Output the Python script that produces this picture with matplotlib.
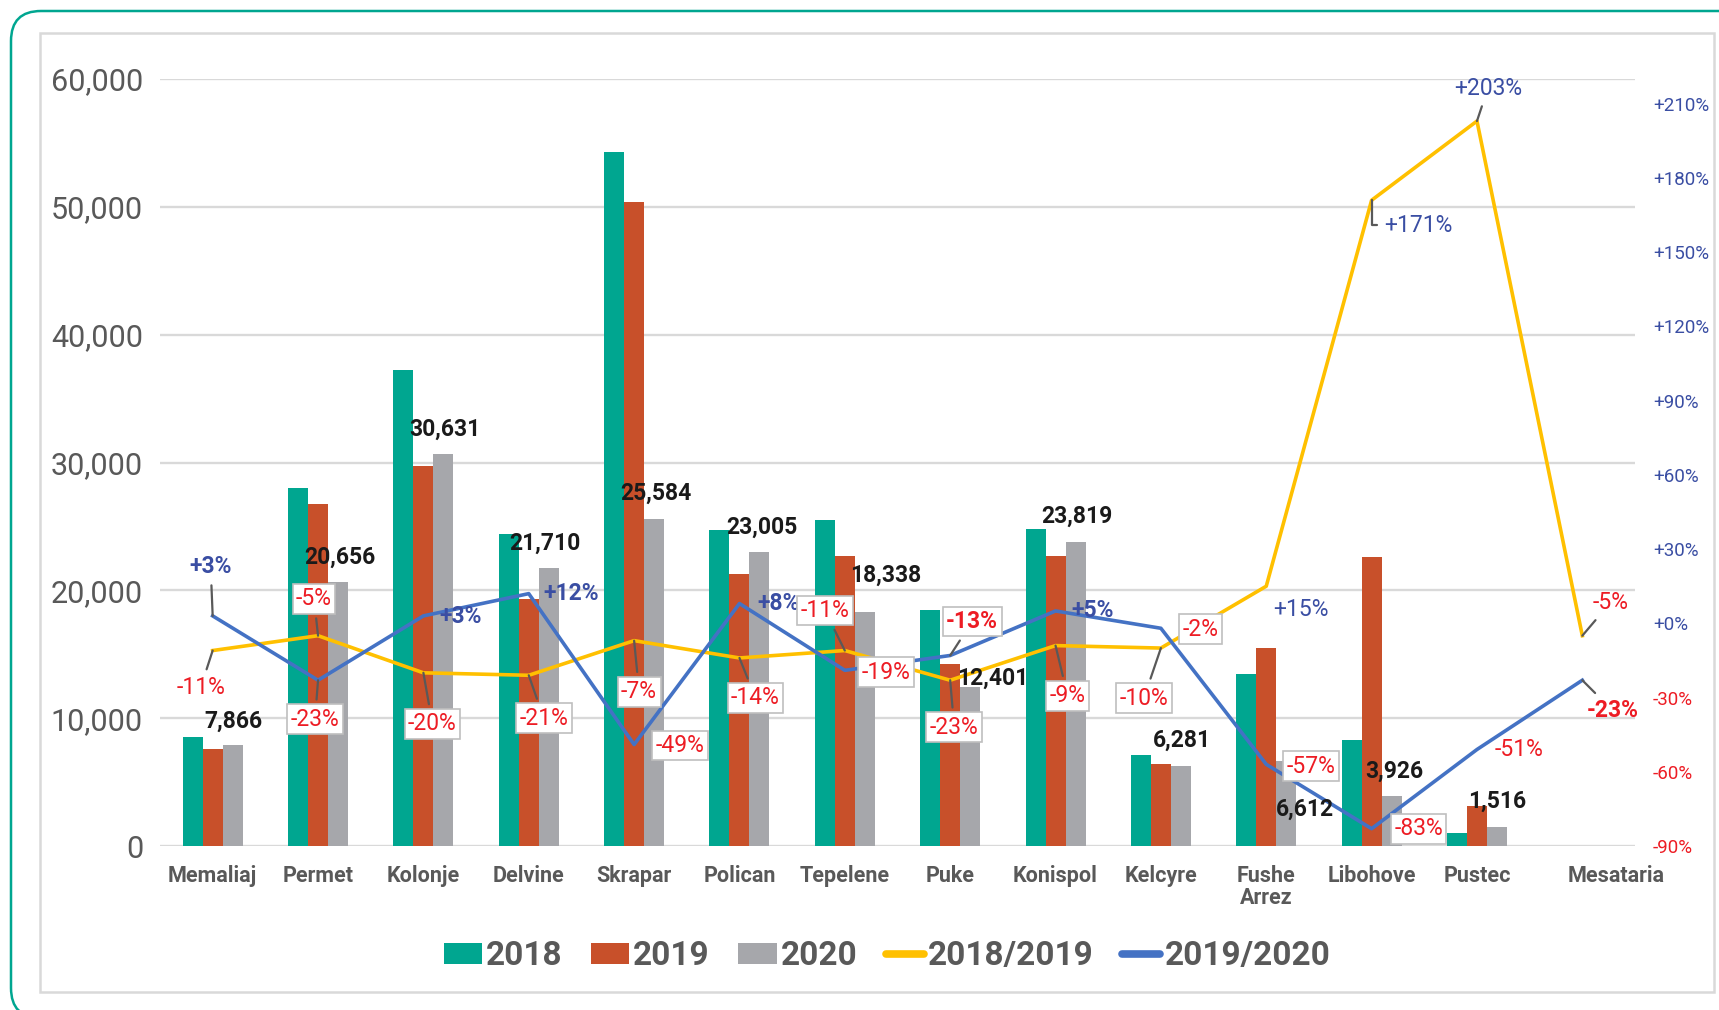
import numpy as np
import matplotlib
matplotlib.use("Agg")
import matplotlib.pyplot as plt
from matplotlib.patches import FancyBboxPatch, Rectangle, Patch
from matplotlib.lines import Line2D
from matplotlib.transforms import IdentityTransform, ScaledTranslation
from matplotlib.font_manager import FontProperties

# ---------------- data ----------------
categories = ['Memaliaj', 'Permet', 'Kolonje', 'Delvine', 'Skrapar', 'Polican',
              'Tepelene', 'Puke', 'Konispol', 'Kelcyre', 'Fushe\nArrez',
              'Libohove', 'Pustec', 'Mesataria']
v2018 = [8550, 28000, 37250, 24400, 54300, 24700, 25500, 18450, 24800, 7100,
         13450, 8330, 1020, np.nan]
v2019 = [7620, 26750, 29700, 19350, 50400, 21300, 22700, 14200, 22650, 6400,
         15450, 22600, 3090, np.nan]
v2020 = [7866, 20656, 30631, 21710, 25584, 23005, 18338, 12401, 23819, 6281,
         6612, 3926, 1516, np.nan]
chg_1819 = [-11, -5, -20, -21, -7, -14, -11, -23, -9, -10, 15, 171, 203, -5]
chg_1920 = [3, -23, 3, 12, -49, 8, -19, -13, 5, -2, -57, -83, -51, -23]
left_ticks = [0, 10000, 20000, 30000, 40000, 50000, 60000]
right_ticks = [-90, -60, -30, 0, 30, 60, 90, 120, 150, 180, 210]
legend_labels = ['2018', '2019', '2020', '2018/2019', '2019/2020']

# ---------------- label placement (pixels) ----------------
offs_1819 = [(-12, 37), (-4, -37), (9, 51), (15, 43), (5, 51), (16, 40), (-20, -40),
             (4, 47), (12, 50), (-17, 50), (35, 23), (47, 25), (11, -33), (28, -33)]
box_1819 = [False, True, True, True, True, True, True, True, True, True,
            False, False, False, False]
bold_1819 = [False] * 14
lead_1819 = ['line'] * 10 + [None, 'elbow', 'line', 'line']

offs_1920 = [(-2, -49), (-3, 39), (37, 1), (42, 0), (46, 1), (39, 0), (41, 2),
             (22, -34), (37, 0), (40, 1), (45, 2), (47, 0), (42, 0), (30, 30)]
box_1920 = [False, True, False, False, True, False, True, True, False, True,
            True, True, False, False]
bold_1920 = [True, False, True, True, False, True, False, True, True, False,
             False, False, False, True]
lead_1920 = ['line', 'line', None, None, None, None, None, 'line', None, None,
             None, None, None, 'line']

bar_lab_offs = [(1, -24), (2, -25), (1, -25), (-4, -25), (2, -26), (2, -25),
                (21, -36), (22, -9), (1, -25), (1, -25), (19, 48), (3, -25), (0, -25)]

# ---------------- style ----------------
TEAL = '#00A690'
ORANGE = '#C8502A'
GRAY = '#A6A7AB'
YELLOW = '#FFC000'
BLUE = '#4472C4'
TXT_BLUE = '#3A4EA3'
TXT_RED = '#ED1C24'
AXIS_TXT = '#595959'
GRID = '#D9D9D9'

W, H = 1719, 1010
DPI = 100

fig = plt.figure(figsize=(W / DPI, H / DPI), dpi=DPI)
fig.patch.set_facecolor('white')

outer = FancyBboxPatch((11, -8), 1800, H - 11 + 8,
                       boxstyle='round,pad=0,rounding_size=30',
                       transform=IdentityTransform(), fill=False,
                       edgecolor=TEAL, lw=1.8)
fig.add_artist(outer)
inner = Rectangle((40, H - 992), 1714 - 40, 992 - 33, transform=IdentityTransform(),
                  fill=False, edgecolor=GRID, lw=1.8)
fig.add_artist(inner)

ax = fig.add_axes([160 / W, (H - 846) / H, 1475 / W, 767 / H])
x = np.arange(len(categories))
bw = 0.19
ax.bar(x - bw, v2018, bw, color=TEAL, zorder=2)
ax.bar(x, v2019, bw, color=ORANGE, zorder=2)
ax.bar(x + bw, v2020, bw, color=GRAY, zorder=2)
ax.set_xlim(-0.5, len(categories) - 0.5)
ax.set_ylim(0, 60000)
ax.set_yticks(left_ticks)
ax.set_yticklabels([f'{t:,}' for t in left_ticks])
ax.yaxis.grid(True, color=GRID, lw=1.7)
ax.set_axisbelow(True)
ax.tick_params(axis='y', length=0, pad=12.2, labelsize=22, labelcolor=AXIS_TXT)
for lb in ax.get_yticklabels():
    lb.set_fontfamily('Roboto')
    lb.set_fontweight('normal')
ax.set_xticks(x)
ax.set_xticklabels(categories)
ax.tick_params(axis='x', length=0, pad=14, labelsize=15.5, labelcolor=AXIS_TXT)
for lb in ax.get_xticklabels():
    lb.set_fontfamily('Roboto')
    lb.set_fontweight('bold')
    lb.set_linespacing(1.0)
mes = ax.get_xticklabels()[-1]
mes.set_transform(mes.get_transform() + ScaledTranslation(34 / DPI, 0, fig.dpi_scale_trans))
for s in ax.spines.values():
    s.set_visible(False)

ax2 = ax.twinx()
ax2.plot(x, chg_1819, color=YELLOW, lw=2.6, solid_joinstyle='round', zorder=3)
ax2.plot(x, chg_1920, color=BLUE, lw=2.6, solid_joinstyle='round', zorder=3)
ax2.set_ylim(-90, 220)
ax2.set_yticks(right_ticks)
ax2.set_yticklabels([(f'+{t}%' if t >= 0 else f'{t}%') for t in right_ticks])
ax2.tick_params(axis='y', length=0, pad=13, labelsize=13.5)
for lb, t in zip(ax2.get_yticklabels(), right_ticks):
    lb.set_fontfamily('Roboto')
    lb.set_fontweight('normal')
    lb.set_color(TXT_BLUE if t >= 0 else TXT_RED)
for s in ax2.spines.values():
    s.set_visible(False)


def pct_label(i, val, off, box, bold, lead):
    txt = f'+{val}%' if val > 0 else f'{val}%'
    col = TXT_BLUE if val > 0 else TXT_RED
    kw = dict(textcoords='offset pixels', ha='center', va='center',
              fontsize=16.5, fontfamily='Roboto', color=col,
              fontweight='bold' if bold else 'normal', zorder=6,
              annotation_clip=False)
    if box:
        kw['bbox'] = dict(boxstyle='square,pad=0.15', fc='white', ec='#BFBFBF', lw=1.2)
    if lead == 'line':
        kw['arrowprops'] = dict(arrowstyle='-', color='#595959', lw=1.6,
                                shrinkA=3, shrinkB=0)
    elif lead == 'elbow':
        kw['arrowprops'] = dict(arrowstyle='-', color='#595959', lw=1.6,
                                shrinkA=3, shrinkB=0,
                                connectionstyle='angle,angleA=0,angleB=90,rad=0')
    ax2.annotate(txt, xy=(x[i], val), xytext=(off[0], -off[1]), **kw)


for i in range(len(categories)):
    pct_label(i, chg_1819[i], offs_1819[i], box_1819[i], bold_1819[i], lead_1819[i])
    pct_label(i, chg_1920[i], offs_1920[i], box_1920[i], bold_1920[i], lead_1920[i])

for i, v in enumerate(v2020):
    if np.isnan(v):
        continue
    off = bar_lab_offs[i]
    ax2.annotate(f'{int(v):,}', xy=(x[i] + bw, v), xycoords=ax.transData,
                 xytext=(off[0], -off[1]), textcoords='offset pixels',
                 ha='center', va='center', fontsize=16.5,
                 fontfamily=['Liberation Sans Narrow', 'Roboto'],
                 fontweight='bold', color='#1A1A1A', zorder=5)

handles = [Patch(facecolor=TEAL), Patch(facecolor=ORANGE), Patch(facecolor=GRAY),
           Line2D([], [], color=YELLOW, lw=5.5, solid_capstyle='round'),
           Line2D([], [], color=BLUE, lw=5.5, solid_capstyle='round')]
fig.legend(handles, legend_labels, loc='center',
           bbox_to_anchor=(887 / W, (H - 956) / H), ncol=5, frameon=False,
           prop=FontProperties(family='Roboto', weight='bold', size=24),
           handlelength=1.15, handleheight=0.6, handletextpad=0.12,
           columnspacing=0.85, labelcolor=AXIS_TXT)

fig.savefig('out.png', dpi=DPI)
